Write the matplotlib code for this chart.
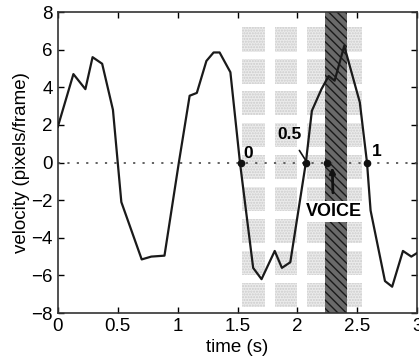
import numpy as np
import matplotlib
matplotlib.use("Agg")
import matplotlib.pyplot as plt
from matplotlib.patches import Rectangle

plt.rcParams['font.family'] = ['Liberation Sans', 'DejaVu Sans']
plt.rcParams['hatch.linewidth'] = 1.0

# traced velocity curve
time_s = [0.0, 0.13, 0.23, 0.29, 0.37, 0.46, 0.50, 0.53, 0.70, 0.78, 0.89, 1.01,
          1.10, 1.16, 1.24, 1.30, 1.35, 1.44, 1.52, 1.63, 1.70, 1.81, 1.87, 1.94,
          2.07, 2.12, 2.20, 2.26, 2.31, 2.39, 2.52, 2.58, 2.61, 2.73, 2.79, 2.88,
          2.95, 3.0]
velocity = [1.9, 4.7, 3.9, 5.6, 5.25, 2.8, 0.0, -2.1, -5.15, -5.0, -4.95, 0.0,
            3.55, 3.7, 5.4, 5.85, 5.85, 4.8, 0.0, -5.6, -6.2, -4.7, -5.6, -5.3,
            0.0, 2.75, 3.9, 4.6, 4.35, 6.2, 3.2, 0.0, -2.55, -6.3, -6.6, -4.7,
            -5.0, -4.8]

# phase markers on the zero line
mark_t = [1.53, 2.07, 2.25, 2.58]
mark_labels = ['0', '0.5', '', '1']

# voice band
voice_band = (2.23, 2.41)

# stippled background blocks
block_cols = [(1.54, 1.73), (1.81, 2.0), (2.08, 2.27), (2.35, 2.54)]
block_rows = [(5.9, 7.2), (4.2, 5.5), (2.5, 3.8), (0.8, 2.1), (-0.9, 0.4),
              (-2.6, -1.3), (-4.3, -3.0), (-6.0, -4.7), (-7.7, -6.4)]

fig = plt.figure(figsize=(4.19, 3.64), dpi=100)
ax = fig.add_axes([0.138, 0.14, 0.858, 0.827])

for c0, c1 in block_cols:
    for r0, r1 in block_rows:
        ax.add_patch(Rectangle((c0, r0), c1 - c0, r1 - r0, facecolor='#ebebeb',
                               edgecolor='#cccccc', hatch='......', linewidth=0, zorder=0))

ax.axvspan(voice_band[0], voice_band[1], facecolor='#6a6a6a', edgecolor='#1a1a1a',
           hatch='\\\\\\\\', linewidth=0, zorder=1)

ax.plot([0, 3], [0, 0], linestyle=(0, (1.2, 4)), color='#555555', linewidth=1.3, zorder=2)
ax.plot(time_s, velocity, color='#1a1a1a', linewidth=1.6, zorder=3)
ax.plot(mark_t, [0] * len(mark_t), 'o', color='#111111', markersize=4.5, zorder=4)

ax.text(mark_t[0] + 0.02, 0.25, mark_labels[0], fontsize=12.5, fontweight='bold', zorder=5)
ax.annotate(mark_labels[1], xy=(mark_t[1], 0.1), xytext=(1.93, 1.5),
            fontsize=12.5, fontweight='bold', ha='center', va='center',
            arrowprops=dict(arrowstyle='-', color='#111111', lw=1.2,
                            shrinkA=5, shrinkB=0), zorder=5)
ax.text(mark_t[3] + 0.04, 0.35, mark_labels[3], fontsize=12.5, fontweight='bold', zorder=5)

ax.annotate('VOICE', xy=(2.29, -0.25), xytext=(2.30, -2.6),
            fontsize=13, fontweight='bold', ha='center', va='center',
            bbox=dict(boxstyle='square,pad=0.1', facecolor='white', edgecolor='none'),
            arrowprops=dict(arrowstyle='-|>', color='#111111', lw=2, mutation_scale=8,
                            shrinkA=6, shrinkB=0), zorder=5)

ax.set_xlim(0, 3)
ax.set_ylim(-8, 8)
ax.set_xticks([0, 0.5, 1, 1.5, 2, 2.5, 3])
ax.set_xticklabels(['0', '0.5', '1', '1.5', '2', '2.5', '3'])
ax.set_yticks([-8, -6, -4, -2, 0, 2, 4, 6, 8])
ax.tick_params(direction='in', top=True, right=True, length=4, labelsize=13.5, width=1)
ax.set_xlabel('time (s)', fontsize=13.5, labelpad=3)
ax.set_ylabel('velocity (pixels/frame)', fontsize=13.5, labelpad=1)
for s in ax.spines.values():
    s.set_linewidth(1.2)
    s.set_color('#333333')

fig.savefig('out.png', dpi=100)
